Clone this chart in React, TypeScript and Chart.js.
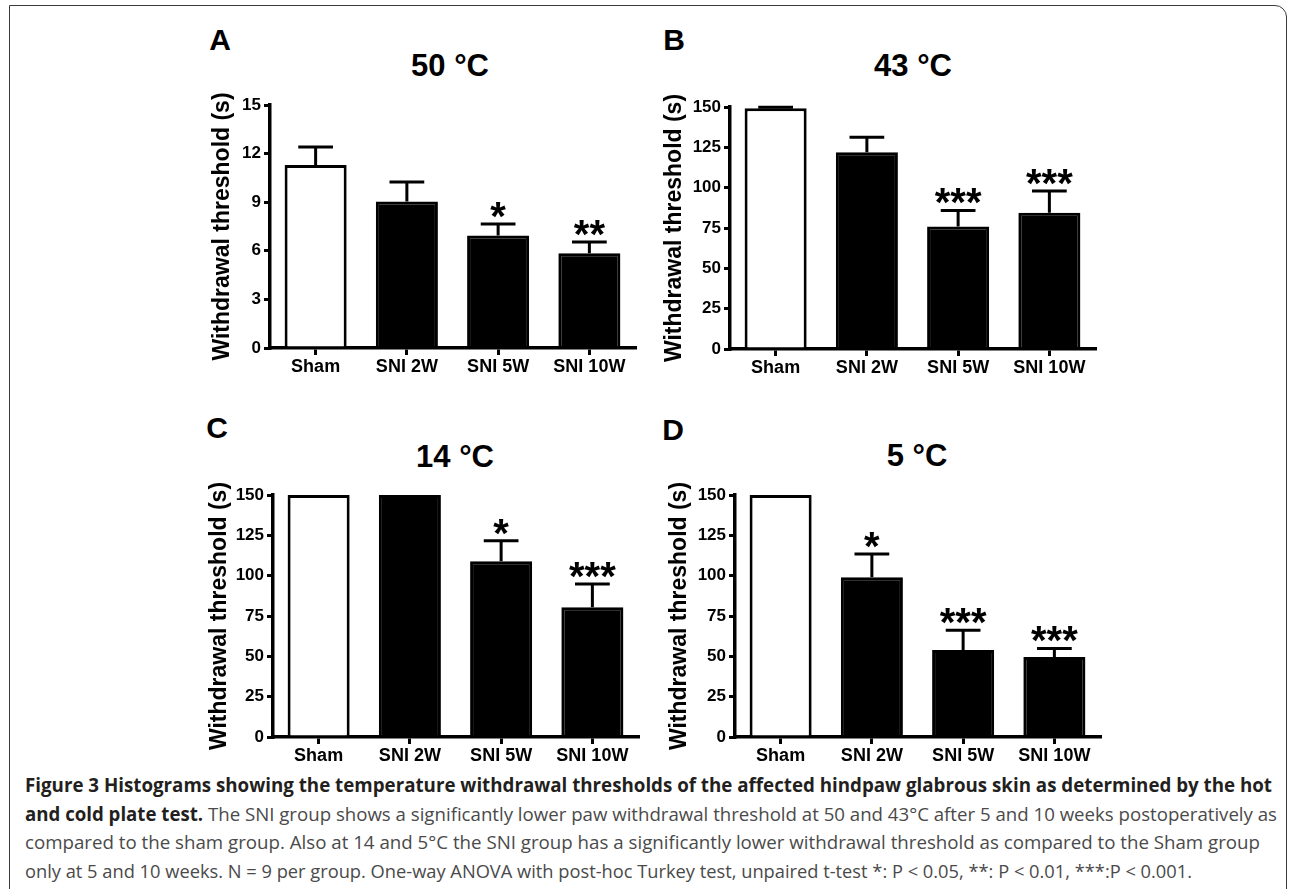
import React, { useEffect, useLayoutEffect, useRef } from "react";
import { Chart, registerables } from "chart.js";

Chart.register(...registerables);

// ---------------- data ----------------
const categories = ["Sham", "SNI 2W", "SNI 5W", "SNI 10W"];

const means50 = [11.3, 9.05, 6.95, 5.85];
const sem50 = [1.1, 1.2, 0.7, 0.7];
const stars50 = ["", "", "*", "**"];

const means43 = [149.3, 122, 76, 84.5];
const sem43 = [0.6, 9.3, 9.9, 13.4];
const stars43 = ["", "", "***", "***"];

const means14 = [150, 150, 108.9, 80.5];
const sem14 = [0, 0, 12.7, 14.3];
const stars14 = ["", "", "*", "***"];

const means5 = [150, 99, 53.9, 49.6];
const sem5 = [0, 14.5, 12.3, 5.3];
const stars5 = ["", "*", "***", "***"];

const yMaxes = [15, 150, 150, 150];
const ySteps = [3, 25, 25, 25];
const panelLetters = ["A", "B", "C", "D"];
const panelTitles = ["50 °C", "43 °C", "14 °C", "5 °C"];
const yAxisTitle = "Withdrawal threshold (s)";

const captionBold1 =
  "Figure 3 Histograms showing the temperature withdrawal thresholds of the affected hindpaw glabrous skin as determined by the hot";
const captionBold2 = "and cold plate test.";
const captionLine2 =
  " The SNI group shows a significantly lower paw withdrawal threshold at 50 and 43°C after 5 and 10 weeks postoperatively as";
const captionLine3 =
  "compared to the sham group. Also at 14 and 5°C the SNI group has a significantly lower withdrawal threshold as compared to the Sham group";
const captionLine4 =
  "only at 5 and 10 weeks. N = 9 per group. One-way ANOVA with post-hoc Turkey test, unpaired t-test *: P < 0.05, **: P < 0.01, ***:P < 0.001.";

// ---------------- layout ----------------
const FAMILY = "'Liberation Sans', Arial, Helvetica, sans-serif";
const PT = 14;
const PR = 6;
const XH = 33;

type Geom = { axisX: number; top: number; bottom: number; right: number; yw: number; letterX: number; letterY: number; titleX: number; titleY: number };

const geoms: Geom[] = [
  { axisX: 270, top: 105, bottom: 348, right: 635, yw: 61, letterX: 220, letterY: 40, titleX: 450, titleY: 65 },
  { axisX: 730, top: 107, bottom: 349, right: 1095, yw: 69, letterX: 674, letterY: 40, titleX: 913, titleY: 65 },
  { axisX: 273, top: 495, bottom: 737, right: 638, yw: 67, letterX: 217, letterY: 428, titleX: 455, titleY: 456 },
  { axisX: 735, top: 495, bottom: 737, right: 1100, yw: 69, letterX: 673, letterY: 430, titleX: 917, titleY: 455 },
];

const panelData = [
  { means: means50, sems: sem50, stars: stars50 },
  { means: means43, sems: sem43, stars: stars43 },
  { means: means14, sems: sem14, stars: stars14 },
  { means: means5, sems: sem5, stars: stars5 },
];

function Panel({ idx }: { idx: number }) {
  const ref = useRef<HTMLCanvasElement>(null);
  const g = geoms[idx];
  const d = panelData[idx];
  const left = g.axisX - g.yw;
  const top = g.top - PT;
  const width = g.right + PR - left;
  const height = PT + (g.bottom - g.top) + XH;

  useEffect(() => {
    const errPlugin = {
      id: "errbars" + idx,
      afterDatasetsDraw(chart: any) {
        const { ctx } = chart;
        const x = chart.scales.x;
        const y = chart.scales.y;
        const meta = chart.getDatasetMeta(0);
        ctx.save();
        ctx.strokeStyle = "#000";
        ctx.fillStyle = "#000";
        ctx.lineWidth = 3;
        ctx.lineCap = "butt";
        d.means.forEach((m: number, i: number) => {
          const e = d.sems[i];
          const cx = x.getPixelForValue(i);
          const yTop = y.getPixelForValue(m);
          const yErr = y.getPixelForValue(m + e);
          const bw = (meta.data[i] as any).width;
          const half = bw * 0.28;
          if (e > 0) {
            ctx.beginPath();
            ctx.moveTo(cx, yTop);
            ctx.lineTo(cx, yErr);
            ctx.moveTo(cx - half, yErr);
            ctx.lineTo(cx + half, yErr);
            ctx.stroke();
          }
          const s = d.stars[i];
          if (s) {
            ctx.font = `bold 40px ${FAMILY}`;
            ctx.textAlign = "center";
            ctx.textBaseline = "alphabetic";
            const mt = ctx.measureText(s);
            const centerY = yErr - 14;
            const base = centerY + (mt.actualBoundingBoxAscent - mt.actualBoundingBoxDescent) / 2;
            ctx.fillText(s, cx, base);
          }
        });
        ctx.restore();
      },
    };

    const chart = new Chart(ref.current!, {
      type: "bar",
      data: {
        labels: categories,
        datasets: [
          {
            data: d.means,
            backgroundColor: d.means.map((_: number, i: number) => (i === 0 ? "#ffffff" : "#000000")),
            borderColor: "#000000",
            borderWidth: 3,
            borderSkipped: "start",
            barPercentage: 0.68,
            categoryPercentage: 1,
          },
        ],
      },
      options: {
        animation: false,
        responsive: false,
        maintainAspectRatio: false,
        devicePixelRatio: 1,
        layout: { padding: { left: 0, top: PT, right: PR, bottom: 0 } },
        plugins: {
          legend: { display: false },
          tooltip: { enabled: false },
          title: { display: false },
        },
        scales: {
          x: {
            type: "category",
            offset: true,
            grid: {
              display: true,
              drawOnChartArea: false,
              drawTicks: true,
              tickLength: 7,
              lineWidth: 3,
              color: "#000",
              offset: false,
            },
            border: { display: true, width: 3.5, color: "#000" },
            ticks: {
              color: "#000",
              font: { family: FAMILY, size: 18, weight: "bold" },
              padding: 1,
              maxRotation: 0,
              autoSkip: false,
            },
            afterFit: (s: any) => {
              s.height = XH;
            },
          },
          y: {
            min: 0,
            max: yMaxes[idx],
            ticks: {
              stepSize: ySteps[idx],
              color: "#000",
              font: { family: FAMILY, size: 17, weight: "bold" },
              padding: 3,
            },
            grid: {
              drawOnChartArea: false,
              drawTicks: true,
              tickLength: 6,
              lineWidth: 3,
              color: "#000",
            },
            border: { display: true, width: 3.5, color: "#000" },
            title: {
              display: true,
              text: yAxisTitle,
              color: "#000",
              font: { family: FAMILY, size: 23, weight: "bold" },
              padding: { top: 0, bottom: 0 },
            },
            afterFit: (s: any) => {
              s.width = g.yw;
            },
          },
        },
      } as any,
      plugins: [errPlugin],
    });
    return () => chart.destroy();
  }, []);

  return (
    <>
      <canvas
        ref={ref}
        width={width}
        height={height}
        style={{ position: "absolute", left, top, width, height }}
      />
      <div
        style={{
          position: "absolute",
          left: g.letterX,
          top: g.letterY,
          transform: "translate(-50%, -50%)",
          font: `bold 30px ${FAMILY}`,
          lineHeight: "30px",
          color: "#000",
          whiteSpace: "nowrap",
        }}
      >
        {panelLetters[idx]}
      </div>
      <div
        style={{
          position: "absolute",
          left: g.titleX,
          top: g.titleY,
          transform: "translate(-50%, -50%)",
          font: `bold 31px ${FAMILY}`,
          lineHeight: "31px",
          color: "#000",
          whiteSpace: "nowrap",
        }}
      >
        {panelTitles[idx]}
      </div>
    </>
  );
}

const captionLeft = 25;
const captionTargets = [1247, 1252, 1235, 1167];

function Caption() {
  const refs = [useRef<HTMLDivElement>(null), useRef<HTMLDivElement>(null), useRef<HTMLDivElement>(null), useRef<HTMLDivElement>(null)];
  useLayoutEffect(() => {
    refs.forEach((r, i) => {
      const el = r.current;
      if (!el) return;
      el.style.transform = "none";
      const w = el.getBoundingClientRect().width;
      if (w > 0) el.style.transform = `scaleX(${captionTargets[i] / w})`;
    });
  }, []);
  const lineStyle: React.CSSProperties = {
    display: "inline-block",
    whiteSpace: "pre",
    transformOrigin: "0 0",
    height: 28.7,
    lineHeight: "28.7px",
  };
  const bold: React.CSSProperties = { fontWeight: 700, color: "#231f20" };
  return (
    <div
      style={{
        position: "absolute",
        left: captionLeft,
        top: 771,
        fontFamily: "'Open Sans', 'Noto Sans', sans-serif",
        fontSize: 19,
        color: "#4a4a4a",
      }}
    >
      <div><div ref={refs[0]} style={lineStyle}><span style={bold}>{captionBold1}</span></div></div>
      <div><div ref={refs[1]} style={lineStyle}><span style={bold}>{captionBold2}</span>{captionLine2}</div></div>
      <div><div ref={refs[2]} style={lineStyle}>{captionLine3}</div></div>
      <div><div ref={refs[3]} style={lineStyle}>{captionLine4}</div></div>
    </div>
  );
}

export default function App() {
  return (
    <div
      style={{
        position: "fixed",
        left: 0,
        top: 0,
        width: 1292,
        height: 889,
        background: "#fff",
        overflow: "hidden",
      }}
    >
      <div
        style={{
          position: "absolute",
          left: 9,
          top: 5,
          width: 1278,
          height: 920,
          border: "1.5px solid #3a3a3a",
          borderTopRightRadius: 12,
          boxSizing: "border-box",
        }}
      />
      {[0, 1, 2, 3].map((i) => (
        <Panel key={i} idx={i} />
      ))}
      <Caption />
    </div>
  );
}
